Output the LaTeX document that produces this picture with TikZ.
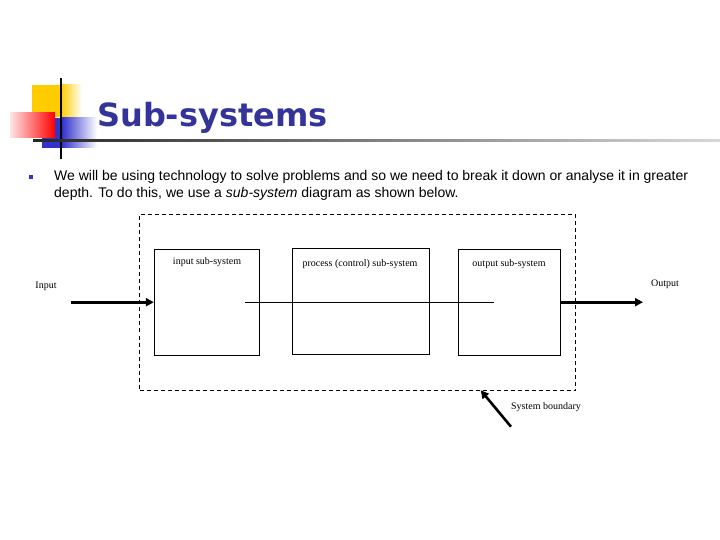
\documentclass[tikz,border=0pt]{standalone}
\usepackage{fontspec}
\setmainfont{Liberation Serif}
\newfontfamily\titlefont{DejaVu Sans}
\newfontfamily\bodyfont{Liberation Sans}
\usetikzlibrary{arrows.meta,calc}
\definecolor{titleblue}{HTML}{333399}
\definecolor{decoyellow}{HTML}{FFCC00}
\definecolor{decoblue}{HTML}{3333CC}
\tikzset{
  subbox/.style={draw=black, line width=0.9pt, minimum width=#1, inner sep=0pt, minimum height=106},
  boxlabel/.style={font=\fontsize{10}{12}\selectfont, inner sep=0pt, anchor=base},
  thickarrow/.style={line width=2.6pt, -{Triangle[length=8pt,width=8pt]}},
  plaintext/.style={font=\fontsize{10}{12}\selectfont, inner sep=0pt}
}
\begin{document}
\begin{tikzpicture}[x=1pt,y=-1pt]
\useasboundingbox (0,0) rectangle (720,540);
% decoration
\fill[decoyellow] (32,85) rectangle (61,117);
\shade[left color=decoyellow, right color=white] (61,85) rectangle (82,117);
\fill[decoblue] (42,118) rectangle (62,148);
\shade[left color=decoblue, right color=white] (62,118) rectangle (97,148);
\shade[left color=red!10, right color=red] (10,113) rectangle (55,138);
\fill[black] (60,78) rectangle (62,159);
\shade[left color=black!85, right color=black!15] (33,139.8) rectangle (720,141.6);
% title
\node[anchor=base west, inner sep=0pt, text=titleblue, font=\titlefont\bfseries\fontsize{32}{36}\selectfont] (title) at (97,127) {Sub-systems};
% bullet text
\fill[decoblue] (29,175) rectangle (33,179);
\node[anchor=north west, inner sep=0pt, align=left, font=\bodyfont\fontsize{14}{17}\selectfont] (body) at (54,170.5) {We will be using technology to solve problems and so we need to break it down or analyse it in greater\\depth. To do this, we use a \textit{sub-system} diagram as shown below.};
% diagram
\node[draw=black, line width=0.9pt, dash pattern=on 4pt off 3pt, minimum width=436, minimum height=176, inner sep=0pt] (boundary) at (357.5,302.5) {};
\node[subbox=105] (inbox) at (206.8,302.2) {};
\node[subbox=137] (procbox) at (360.8,301.3) {};
\node[subbox=102] (outbox) at (509.5,302.2) {};
\node[boxlabel] (inlabel) at (207,264) {input sub-system};
\node[boxlabel] (proclabel) at (360,266) {process (control) sub-system};
\node[boxlabel] (outlabel) at (509,266) {output sub-system};
\coordinate (lineA) at (245,302.3);
\coordinate (lineB) at (493.7,302.3);
\draw[line width=0.9pt] (lineA) -- (lineB);
\coordinate (instart) at (71,302.2);
\draw[thickarrow] (instart) -- (inbox.west);
\coordinate (outend) at (643,302.2);
\draw[thickarrow] (outbox.east) -- (outend);
\node[plaintext] (inputlabel) at (46,286) {Input};
\node[plaintext] (outputlabel) at (665,284) {Output};
\node[plaintext] (sblabel) at (546,407) {System boundary};
\coordinate (sbtail) at (511,426.7);
\coordinate (sbhead) at (480.7,390.3);
\draw[thickarrow] (sbtail) -- (sbhead);
\end{tikzpicture}
\end{document}
